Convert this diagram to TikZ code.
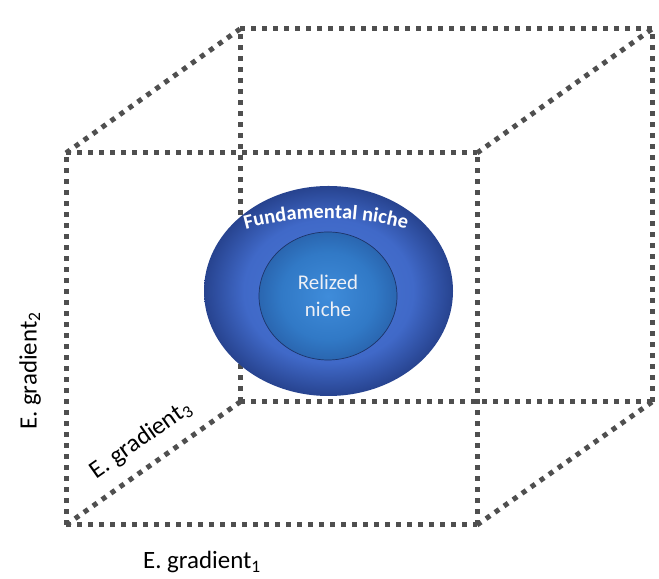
\documentclass[tikz,border=0pt]{standalone}
\usepackage{fontspec}
\setmainfont{Carlito}
\usetikzlibrary{shapes.geometric,decorations.text}
\definecolor{dotgray}{HTML}{4F4F4F}
\definecolor{oA}{HTML}{4A78D4}
\definecolor{oB}{HTML}{4069C8}
\definecolor{oC}{HTML}{27438F}
\definecolor{iA}{HTML}{3F8CDA}
\definecolor{iB}{HTML}{3179C6}
\definecolor{iC}{HTML}{2A66B0}
\definecolor{innerline}{HTML}{1D3468}
\definecolor{nichetext}{HTML}{EEF0F6}
\pgfdeclareradialshading{outerniche}{\pgfpoint{0bp}{0bp}}{color(0bp)=(oA); color(17bp)=(oB); color(25bp)=(oC); color(50bp)=(oC)}
\pgfdeclareradialshading{innerniche}{\pgfpoint{0bp}{0bp}}{color(0bp)=(iA); color(17bp)=(iB); color(25bp)=(iC); color(50bp)=(iC)}
\begin{document}
\begin{tikzpicture}[x=1bp,y=1bp,
  edge/.style={draw=dotgray, line width=5bp, dash pattern=on 5bp off 6bp},
  axislabel/.style={font=\fontsize{25}{29}\selectfont, text=black, inner sep=0pt}]
\useasboundingbox (0,0) rectangle (659,579);
% cube corners
\coordinate (f1) at (66,54);
\coordinate (f2) at (477,54);
\coordinate (f3) at (477,426);
\coordinate (f4) at (66,426);
\coordinate (b1) at (240,177);
\coordinate (b2) at (652,177);
\coordinate (b3) at (652,550);
\coordinate (b4) at (240,550);
% back face
\draw[edge] (b1) -- (b2);
\draw[edge] (b2) -- (b3);
\draw[edge] (b4) -- (b3);
\draw[edge] (b1) -- (b4);
% connecting edges
\draw[edge] (f1) -- (b1);
\draw[edge] (f2) -- (b2);
\draw[edge] (f3) -- (b3);
\draw[edge] (f4) -- (b4);
% front face
\draw[edge] (f1) -- (f2);
\draw[edge] (f2) -- (f3);
\draw[edge] (f4) -- (f3);
\draw[edge] (f1) -- (f4);
% niches
\node[ellipse, minimum width=249bp, minimum height=210bp, inner sep=0pt, shade, shading=outerniche] (fund) at (328.5,288) {};
\node[ellipse, minimum width=138bp, minimum height=128bp, inner sep=0pt, shade, shading=innerniche, draw=innerline, line width=0.7bp] (real) at (328,283) {};
\node[align=center, text=nichetext, font=\fontsize{21}{27}\selectfont] (realtext) at (328,283) {Relized\\niche};
\path[decorate, decoration={text along path, text={|\bfseries\fontsize{20.5}{24}\selectfont|Fundamental niche}, text color=white, text align=center}]
  (226,344) .. controls (291,366) and (361,366) .. (426,344);
% axis labels
\node[axislabel, rotate=90] (g2) at (30,208) {E. gradient\textsubscript{2}};
\node[axislabel, rotate=35] (g3) at (141,139) {E. gradient\textsubscript{3}};
\node[axislabel] (g1) at (202,17) {E. gradient\textsubscript{1}};
\end{tikzpicture}
\end{document}
